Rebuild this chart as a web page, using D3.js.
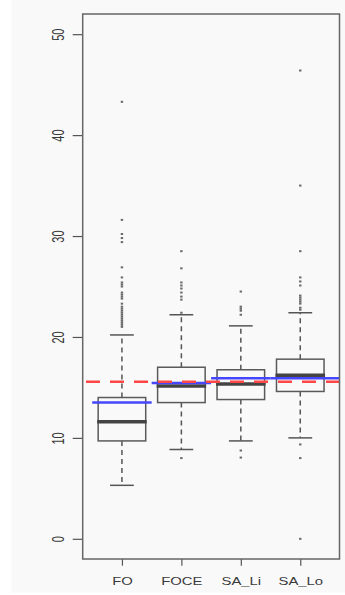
<!DOCTYPE html>
<html>
<head>
<meta charset="utf-8">
<script src="https://cdn.jsdelivr.net/npm/d3@7"></script>
<style>
	html, body { margin: 0; padding: 0; background: #fff; }
	svg { display: block; }
	text { font-family: "Liberation Sans", Arial, sans-serif; fill: #3a3a3a; }
</style>
</head>
<body>
<div class="chart"></div>
<script>
const GROUPS = ['FO', 'FOCE', 'SA_Li', 'SA_Lo']
const Y_TICKS = [0, 10, 20, 30, 40, 50]

// box stats: lower whisker, q1, median, q3, upper whisker
const WHISK_LO = [5.3, 8.85, 9.7, 10.0]
const Q1 = [9.7, 13.5, 13.8, 14.6]
const MEDIAN = [11.6, 15.15, 15.35, 16.2]
const Q3 = [14.0, 17.0, 16.75, 17.8]
const WHISK_HI = [20.2, 22.2, 21.1, 22.4]

const OUTLIERS = [
	[43.3, 31.6, 30.2, 29.8, 29.4, 26.9, 25.9, 25.4, 25.2, 25.0, 24.4, 24.2, 24.0, 23.8, 23.3, 23.0,
		22.8, 22.6, 22.4, 22.2, 22.0, 21.8, 21.6, 21.4, 21.2, 21.0],
	[28.5, 26.8, 25.4, 25.1, 24.8, 24.4, 24.0, 23.7, 22.4, 8.0],
	[24.5, 23.0, 22.8, 22.6, 22.2, 8.75, 8.05],
	[46.4, 35.0, 28.5, 25.9, 25.5, 25.1, 24.1, 23.9, 23.7, 23.5, 23.3, 22.9, 22.7, 9.35, 8.0, 0]
]

const MEANS = [13.5, 15.43, 15.9, 15.9]
const REF_LINE = 15.56

const W = 345
const H = 595
const frame = { left: 82.7, right: 339.5, top: 14, bottom: 559 }
const SX = 1.35 // labels look horizontally stretched

const svg = d3.select('.chart').append('svg')
	.attr('width', W)
	.attr('height', H)

svg.append('rect')
	.attr('x', 11.7).attr('y', 0)
	.attr('width', W - 11.7).attr('height', 592.7)
	.attr('fill', '#f9f9f9')

const x = d3.scalePoint()
	.domain(GROUPS)
	.range([frame.left, frame.right])
	.padding(0.66)

const y = d3.scaleLinear()
	.domain([-2, 52])
	.range([frame.bottom, frame.top])

const step = x.step()
const boxW = step * 0.8
const capW = boxW * 0.5

const data = GROUPS.map((g, i) => ({
	g,
	lo: WHISK_LO[i], q1: Q1[i], med: MEDIAN[i], q3: Q3[i], hi: WHISK_HI[i],
	out: OUTLIERS[i], mean: MEANS[i], i
}))

// axes
const axisY = svg.append('g')
	.attr('transform', `translate(${frame.left},0)`)
	.call(d3.axisLeft(y).tickValues(Y_TICKS).tickSize(10).tickFormat(d3.format('d')))
axisY.select('.domain').remove()
axisY.selectAll('line').attr('stroke', '#555').attr('stroke-width', 1.2)
axisY.selectAll('text')
	.attr('x', null).attr('dy', null)
	.attr('text-anchor', 'middle')
	.style('font-size', '11px')
	.attr('transform', `translate(-18.7,0) scale(1.5,1) rotate(-90)`)

const axisX = svg.append('g')
	.attr('transform', `translate(0,${frame.bottom})`)
	.call(d3.axisBottom(x).tickSize(6.7))
axisX.select('.domain').remove()
axisX.selectAll('line').attr('stroke', '#555').attr('stroke-width', 1.2)
axisX.selectAll('text')
	.attr('y', null).attr('dy', null)
	.attr('text-anchor', 'middle')
	.style('font-size', '11px')
	.attr('transform', `translate(0,26) scale(${SX},1)`)

const plot = svg.append('g')

const box = plot.selectAll('.box').data(data).join('g')
	.attr('class', 'box')
	.attr('transform', d => `translate(${x(d.g)},0)`)

// whiskers
box.append('line')
	.attr('x1', 0).attr('x2', 0)
	.attr('y1', d => y(d.q3)).attr('y2', d => y(d.hi))
	.attr('stroke', '#555').attr('stroke-width', 1.5)
	.attr('stroke-dasharray', '5,4')
box.append('line')
	.attr('x1', 0).attr('x2', 0)
	.attr('y1', d => y(d.q1)).attr('y2', d => y(d.lo))
	.attr('stroke', '#555').attr('stroke-width', 1.5)
	.attr('stroke-dasharray', '5,4')

box.selectAll('.cap').data(d => [d.lo, d.hi]).join('line')
	.attr('class', 'cap')
	.attr('x1', -capW / 2).attr('x2', capW / 2)
	.attr('y1', d => y(d)).attr('y2', d => y(d))
	.attr('stroke', '#555').attr('stroke-width', 1.5)

box.append('rect')
	.attr('x', -boxW / 2)
	.attr('y', d => y(d.q3))
	.attr('width', boxW)
	.attr('height', d => y(d.q1) - y(d.q3))
	.attr('fill', 'none')
	.attr('stroke', '#5a5a5a').attr('stroke-width', 1.5)

box.append('line')
	.attr('x1', -boxW / 2 - 1).attr('x2', boxW / 2 + 1)
	.attr('y1', d => y(d.med)).attr('y2', d => y(d.med))
	.attr('stroke', '#444').attr('stroke-width', 3.5)

box.selectAll('.out').data(d => d.out).join('rect')
	.attr('class', 'out')
	.attr('x', -1.2).attr('y', d => y(d) - 1)
	.attr('width', 2.4).attr('height', 2)
	.attr('fill', '#6a6a6a')

// means (blue) and overall reference (red dashed)
plot.selectAll('.mean').data(data).join('line')
	.attr('class', 'mean')
	.attr('x1', d => x(d.g) - step / 2)
	.attr('x2', d => d.i === GROUPS.length - 1 ? frame.right : x(d.g) + step / 2)
	.attr('y1', d => y(d.mean)).attr('y2', d => y(d.mean))
	.attr('stroke', '#4646ff').attr('stroke-width', 2.5)

plot.append('line')
	.attr('x1', frame.left).attr('x2', frame.right)
	.attr('y1', y(REF_LINE)).attr('y2', y(REF_LINE))
	.attr('stroke', '#ff4747').attr('stroke-width', 2.5)
	.attr('stroke-dasharray', '14,10')
	.attr('stroke-dashoffset', 20.7)

svg.append('rect')
	.attr('x', frame.left).attr('y', frame.top)
	.attr('width', frame.right - frame.left)
	.attr('height', frame.bottom - frame.top)
	.attr('fill', 'none')
	.attr('stroke', '#666').attr('stroke-width', 1.5)
</script>
</body>
</html>
